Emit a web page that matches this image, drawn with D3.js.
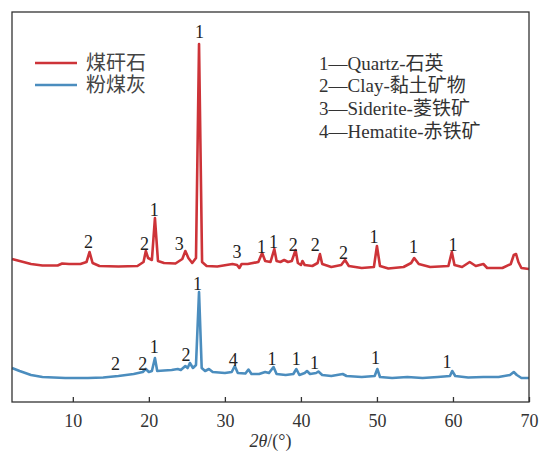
<!DOCTYPE html>
<html>
<head>
<meta charset="utf-8">
<script src="https://cdn.jsdelivr.net/npm/d3@7"></script>
<style>
  body { margin: 0; background: #fff; }
  svg text { font-family: "Liberation Serif", "Times New Roman", "Noto Sans CJK SC", serif; }
</style>
</head>
<body>
<script>
// XRD patterns, [2theta, intensity a.u.] (coal gangue trace shown offset upward)
const gangue = [
  [2.0,1430],[3.0,1410],[4.5,1380],[6.0,1365],[8.0,1365],[8.6,1385],[9.5,1380],[11.0,1380],
  [11.8,1400],[12.2,1500],[12.6,1390],[13.5,1360],[16.0,1355],[18.5,1360],[19.3,1400],[19.6,1510],
  [19.9,1440],[20.4,1420],[20.8,1840],[21.2,1410],[22.0,1390],[23.5,1385],[24.4,1430],[24.8,1510],
  [25.2,1440],[25.7,1390],[26.2,1440],[26.6,3580],[27.0,1400],[27.6,1360],[29.0,1355],[31.0,1380],
  [31.6,1370],[31.9,1340],[32.2,1380],[33.0,1380],[34.4,1400],[34.9,1490],[35.3,1410],[36.0,1400],
  [36.5,1530],[36.8,1410],[37.3,1400],[37.8,1420],[38.3,1400],[38.8,1410],[39.3,1520],[39.6,1390],
  [40.0,1370],[40.2,1410],[40.5,1370],[41.5,1360],[42.2,1390],[42.5,1480],[42.8,1380],[44.0,1350],
  [45.3,1370],[45.8,1420],[46.3,1360],[48.0,1340],[49.6,1350],[50.0,1560],[50.4,1360],[51.5,1335],
  [53.5,1350],[54.5,1390],[54.9,1440],[55.5,1380],[57.0,1350],[59.4,1360],[59.85,1500],[60.2,1370],
  [61.2,1350],[62.2,1400],[63.0,1360],[64.0,1380],[64.5,1340],[66.5,1340],[67.6,1380],[68.0,1470],
  [68.3,1480],[68.6,1400],[69.0,1340],[70.0,1330]
];

const flyash = [
  [2.0,340],[3.0,310],[4.5,270],[6.0,250],[9.0,240],[12.0,240],[14.0,245],[16.0,260],[18.0,280],
  [19.2,300],[19.6,330],[20.0,300],[20.4,310],[20.8,440],[21.1,310],[22.0,315],[23.0,320],[23.8,330],
  [24.2,320],[24.8,360],[25.1,340],[25.4,390],[25.8,340],[26.2,370],[26.6,1100],[26.95,340],[27.4,310],
  [27.9,330],[28.4,300],[30.0,290],[30.9,300],[31.3,360],[31.7,290],[32.7,285],[33.1,325],[33.5,280],
  [34.5,280],[35.3,300],[35.8,290],[36.4,350],[36.8,280],[38.0,270],[39.0,280],[39.4,330],[39.8,270],
  [40.5,290],[40.8,310],[41.2,280],[42.0,290],[42.3,305],[42.8,270],[44.0,260],[45.5,280],[46.0,260],
  [48.0,250],[49.7,260],[50.05,330],[50.4,250],[52.0,240],[54.0,250],[56.0,240],[58.0,250],[59.6,260],
  [59.9,310],[60.3,260],[62.0,245],[64.0,250],[66.0,250],[67.5,270],[68.0,300],[68.4,270],[69.0,240],
  [70.0,240]
];

// phase labels [2theta, intensity, text]
const gangueLabels = [
  [12.06,1600,"2"],[19.42,1580,"2"],[20.7,1920,"1"],[24.0,1580,"3"],[26.65,3700,"1"],
  [31.6,1500,"3"],[34.8,1550,"1"],[36.4,1600,"1"],[39.0,1570,"2"],[41.9,1570,"2"],
  [45.6,1490,"2"],[49.6,1650,"1"],[54.8,1550,"1"],[60.0,1570,"1"]
];
const flyashLabels = [
  [15.6,380,"2"],[19.2,380,"2"],[20.7,550,"1"],[24.9,470,"2"],[26.4,1180,"1"],
  [31.1,420,"4"],[36.2,430,"1"],[39.4,430,"1"],[41.8,390,"1"],[49.8,440,"1"],[59.2,400,"1"]
];

const seriesNames = ["煤矸石", "粉煤灰"];
const phaseKey = ["1—Quartz-石英", "2—Clay-黏土矿物", "3—Siderite-菱铁矿", "4—Hematite-赤铁矿"];
const xTicks = [10, 20, 30, 40, 50, 60, 70];

const width = 539, height = 451;
const margin = { top: 12, right: 10, bottom: 49, left: 12 };
const red = "#cd3338", blue = "#4b8dbe";

const svg = d3.select("body").append("svg")
    .attr("width", width)
    .attr("height", height);

const x = d3.scaleLinear()
    .domain([2, 70])
    .range([margin.left, width - margin.right]);

const y = d3.scaleLinear()
    .domain([0, 3900])
    .range([height - margin.bottom, margin.top]);

const line = d3.line()
    .x(d => x(d[0]))
    .y(d => y(d[1]));

const plot = svg.append("g");

plot.append("path")
    .attr("d", line(flyash))
    .attr("fill", "none")
    .attr("stroke", blue)
    .attr("stroke-width", 2.6)
    .attr("stroke-linejoin", "round");

plot.append("path")
    .attr("d", line(gangue))
    .attr("fill", "none")
    .attr("stroke", red)
    .attr("stroke-width", 2.6)
    .attr("stroke-linejoin", "round");

// peak labels
plot.selectAll("text.lab")
    .data(gangueLabels.concat(flyashLabels))
    .enter()
    .append("text")
    .attr("class", "lab")
    .attr("x", d => x(d[0]))
    .attr("y", d => y(d[1]))
    .attr("text-anchor", "middle")
    .attr("dominant-baseline", "central")
    .style("font-size", "18px")
    .attr("fill", "#222")
    .text(d => d[2]);

// frame
svg.append("rect")
    .attr("x", margin.left)
    .attr("y", margin.top)
    .attr("width", width - margin.left - margin.right)
    .attr("height", height - margin.top - margin.bottom)
    .attr("fill", "none")
    .attr("stroke", "#333")
    .attr("stroke-width", 1.3);

// bottom axis, ticks pointing inward
const xAxis = svg.append("g")
    .attr("transform", `translate(0,${height - margin.bottom})`)
    .call(d3.axisBottom(x).tickValues(xTicks).tickSizeInner(-5).tickSizeOuter(0).tickPadding(12));

xAxis.select(".domain").remove();
xAxis.selectAll(".tick line").attr("stroke", "#333").attr("stroke-width", 1.3);
xAxis.selectAll(".tick text")
    .style("font-size", "18px")
    .attr("fill", "#333");

// axis title
const title = svg.append("text")
    .attr("x", x(36))
    .attr("y", 447)
    .attr("text-anchor", "middle")
    .style("font-size", "18px")
    .attr("fill", "#333");
title.append("tspan").attr("font-style", "italic").text("2θ");
title.append("tspan").text("/(°)");

// series legend
const legend = svg.append("g");
[red, blue].forEach((c, i) => {
  const ly = 63 + i * 22;
  legend.append("line")
      .attr("x1", 35).attr("x2", 77)
      .attr("y1", ly).attr("y2", ly)
      .attr("stroke", c)
      .attr("stroke-width", 2.6);
  legend.append("text")
      .attr("x", 86)
      .attr("y", ly)
      .attr("dominant-baseline", "central")
      .style("font-size", "20px")
      .attr("fill", "#444")
      .text(seriesNames[i]);
});

// phase key
svg.append("g").selectAll("text")
    .data(phaseKey)
    .enter()
    .append("text")
    .attr("x", 319)
    .attr("y", (d, i) => 63 + i * 22.7)
    .attr("dominant-baseline", "central")
    .style("font-size", "19px")
    .attr("fill", "#333")
    .text(d => d);
</script>
</body>
</html>
